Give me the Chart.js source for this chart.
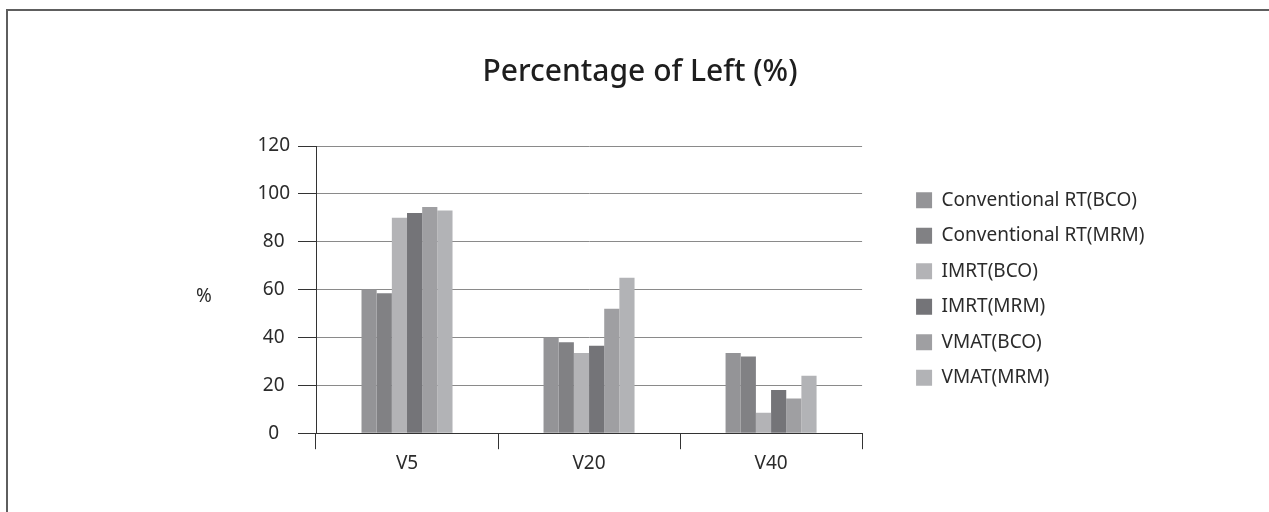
<!DOCTYPE html>
<html>
<head>
<meta charset="utf-8">
<script src="https://cdn.jsdelivr.net/npm/chart.js@4/dist/chart.umd.min.js"></script>
<style>
  html, body { margin: 0; padding: 0; background: #fff; }
  #wrap { position: relative; width: 1269px; height: 512px; overflow: hidden; }
  canvas { display: block; }
</style>
</head>
<body>
<div id="wrap"><canvas id="chart" width="1269" height="512"></canvas></div>
<script>
// Dose-volume categories and the share of the left organ receiving each dose
const categories = ['V5', 'V20', 'V40'];
const seriesNames = [
  'Conventional RT(BCO)',
  'Conventional RT(MRM)',
  'IMRT(BCO)',
  'IMRT(MRM)',
  'VMAT(BCO)',
  'VMAT(MRM)'
];
const conventionalBCO = [60, 40, 33.5];
const conventionalMRM = [58.5, 38, 32];
const imrtBCO = [90, 33.5, 8.5];
const imrtMRM = [92, 36.5, 18];
const vmatBCO = [94.5, 52, 14.5];
const vmatMRM = [93, 65, 24];
const yTicks = [0, 20, 40, 60, 80, 100, 120];

const seriesValues = [conventionalBCO, conventionalMRM, imrtBCO, imrtMRM, vmatBCO, vmatMRM];
const seriesColors = ['#949497', '#818184', '#b3b3b6', '#747478', '#9f9fa2', '#b2b3b6'];

const FONT = "'Noto Sans', 'Open Sans', sans-serif";
const TEXT = '#2b2b2b';

// Thin frame along the top and left edges of the page
const framePlugin = {
  id: 'frame',
  beforeDraw(chart) {
    const ctx = chart.ctx;
    ctx.save();
    ctx.strokeStyle = '#5e5e5e';
    ctx.lineWidth = 2;
    ctx.beginPath();
    ctx.moveTo(7, chart.height);
    ctx.lineTo(7, 10);
    ctx.lineTo(chart.width, 10);
    ctx.stroke();
    ctx.restore();
  }
};

// Unrotated unit label to the left of the value axis
const unitLabelPlugin = {
  id: 'unitLabel',
  afterDraw(chart) {
    const {ctx, chartArea} = chart;
    ctx.save();
    ctx.fillStyle = TEXT;
    ctx.font = `19px ${FONT}`;
    ctx.textAlign = 'center';
    ctx.textBaseline = 'middle';
    ctx.fillText('%', chartArea.left - 112, (chartArea.top + chartArea.bottom) / 2 + 7);
    ctx.restore();
  }
};

// Centre the title on the page and set the legend a little apart from the plot
const placementPlugin = {
  id: 'placement',
  afterLayout(chart) {
    const area = chart.chartArea;
    const t = chart.titleBlock;
    if (t) {
      t.left = 11;
      t.right = chart.width;
    }
    const lg = chart.legend;
    if (lg) {
      const w = lg.width;
      lg.left = area.right + 37.5;
      lg.right = lg.left + w;
      lg.top = area.top - 1;
      lg.bottom = area.bottom;
    }
  }
};

new Chart(document.getElementById('chart'), {
  type: 'bar',
  data: {
    labels: categories,
    datasets: seriesNames.map((name, i) => ({
      label: name,
      data: seriesValues[i],
      backgroundColor: seriesColors[i],
      borderWidth: 0,
      barPercentage: 1.0,
      categoryPercentage: 0.5
    }))
  },
  options: {
    responsive: false,
    animation: false,
    devicePixelRatio: 1,
    layout: { padding: { left: 16, right: 152, top: 0, bottom: 34 } },
    plugins: {
      tooltip: { enabled: false },
      title: {
        display: true,
        text: 'Percentage of Left (%)',
        color: '#1e1e1e',
        font: { family: FONT, size: 30, weight: 500 },
        padding: { top: 54, bottom: 56 }
      },
      legend: {
        position: 'right',
        align: 'center',
        labels: {
          boxWidth: 16,
          boxHeight: 16,
          padding: 16.5,
          color: TEXT,
          font: { family: FONT, size: 19 }
        }
      }
    },
    scales: {
      x: {
        grid: {
          drawOnChartArea: false,
          drawTicks: true,
          tickLength: 16,
          tickColor: '#333'
        },
        border: { color: '#333', width: 1 },
        ticks: { color: TEXT, font: { family: FONT, size: 19 }, padding: 3 }
      },
      y: {
        min: 0,
        max: 120,
        afterFit(scale) { scale.width = 300; },
        afterBuildTicks(scale) { scale.ticks = yTicks.map(v => ({ value: v })); },
        grid: {
          color: '#8a8a8a',
          tickLength: 18,
          tickColor: '#333'
        },
        border: { color: '#333', width: 1 },
        ticks: {
          color: TEXT,
          font: { family: FONT, size: 19 },
          padding: 8,
          crossAlign: 'center'
        }
      }
    }
  },
  plugins: [framePlugin, unitLabelPlugin, placementPlugin]
});
</script>
</body>
</html>
